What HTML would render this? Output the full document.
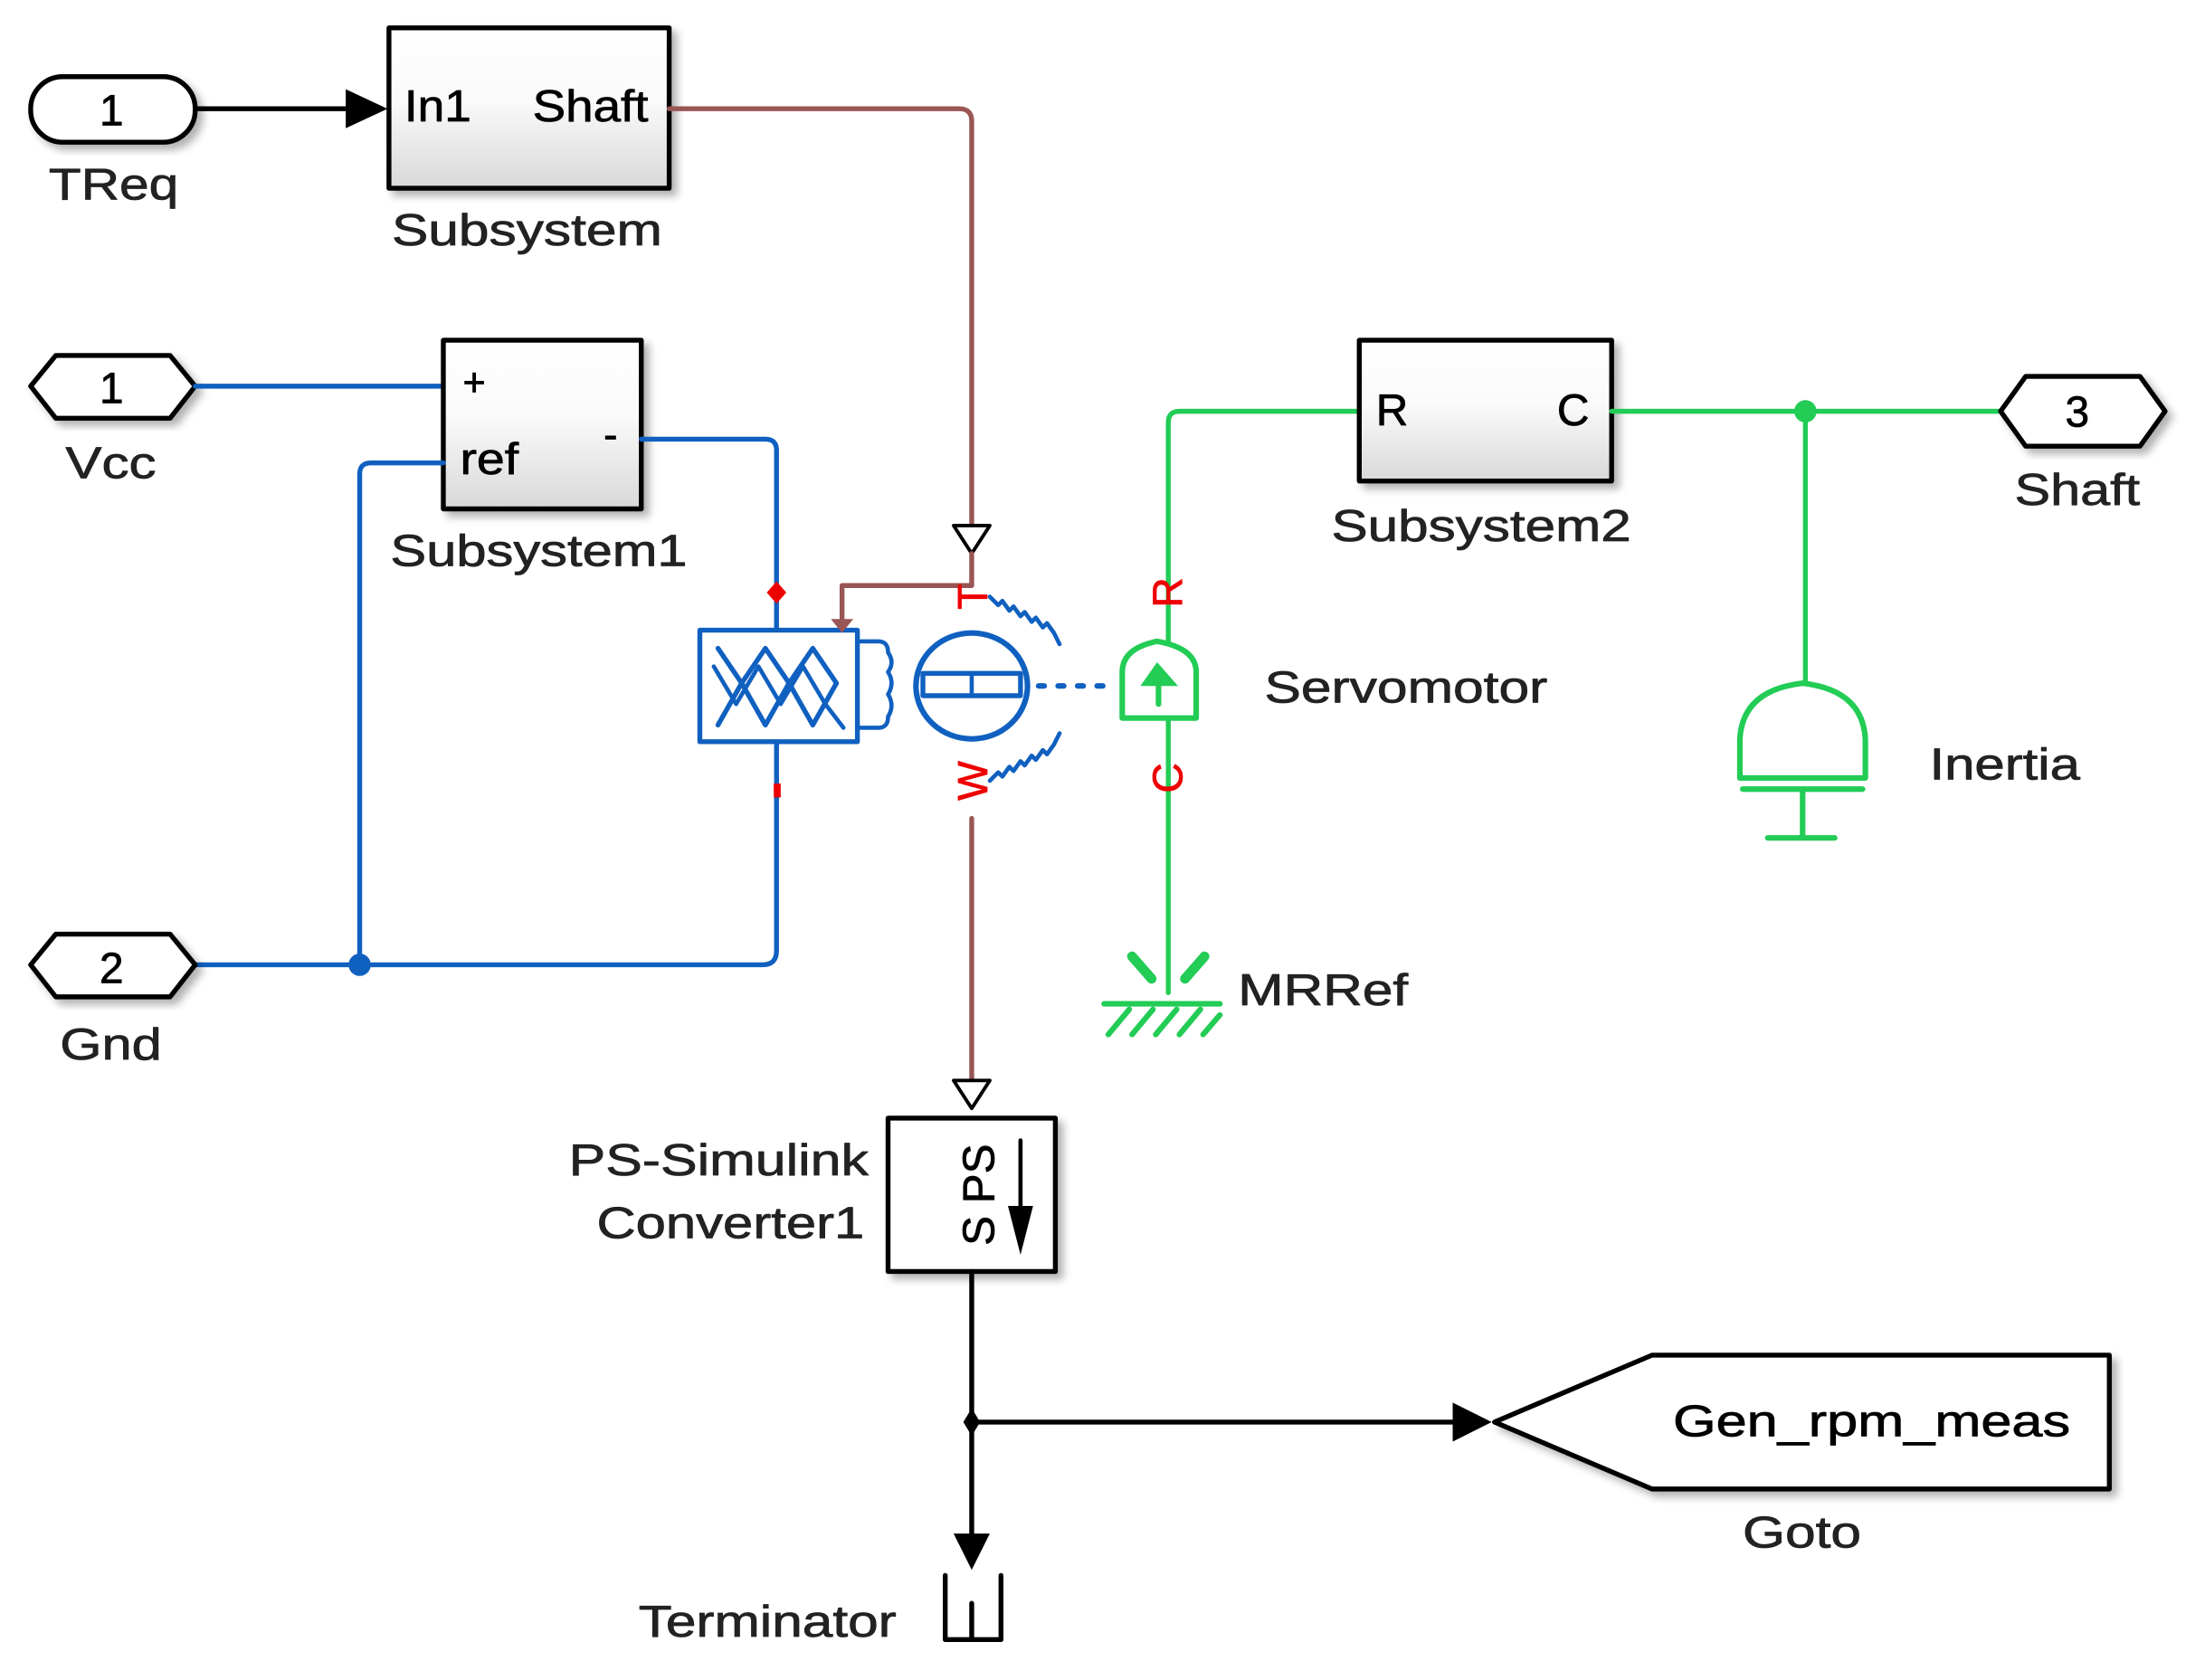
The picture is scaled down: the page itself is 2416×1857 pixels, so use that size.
<!DOCTYPE html>
<html><head><meta charset="utf-8"><style>
html,body{margin:0;padding:0;background:#fff;}
svg{display:block;}
text{font-family:"Liberation Sans",Arial,sans-serif;stroke:currentColor;stroke-width:0.5;}
</style></head><body>
<svg width="2416" height="1857" viewBox="0 0 1568 1205" preserveAspectRatio="none" xmlns="http://www.w3.org/2000/svg">
<defs>
<linearGradient id="g" x1="0" y1="0" x2="0" y2="1"><stop offset="0" stop-color="#fff"/><stop offset="0.45" stop-color="#fafafa"/><stop offset="1" stop-color="#d8d8d8"/></linearGradient>
<filter id="sh" x="-10%" y="-10%" width="130%" height="130%"><feDropShadow dx="4" dy="4" stdDeviation="3" flood-color="#000" flood-opacity="0.3"/></filter>
</defs>
<g stroke-linejoin="round" stroke-linecap="round">
<!-- TReq -->
<rect x="22" y="55" width="118" height="47" rx="23" fill="#fff" stroke="#000" stroke-width="3.5" filter="url(#sh)"/>
<text x="80" y="90" font-size="31" text-anchor="middle" color="#000">1</text>
<text x="35" y="143" font-size="32" textLength="93" lengthAdjust="spacingAndGlyphs" fill="#222" color="#222">TReq</text>
<line x1="140" y1="78" x2="252" y2="78" stroke="#000" stroke-width="3.5"/>
<polygon points="248,64 278,78 248,92" fill="#000"/>
<!-- Subsystem -->
<rect x="279" y="20" width="201" height="115" fill="url(#g)" stroke="#000" stroke-width="3.5" filter="url(#sh)"/>
<text x="290" y="87" font-size="32" textLength="48" lengthAdjust="spacingAndGlyphs" color="#000">In1</text>
<text x="382" y="87" font-size="32" textLength="83" lengthAdjust="spacingAndGlyphs" color="#000">Shaft</text>
<text x="281" y="176" font-size="32" textLength="194" lengthAdjust="spacingAndGlyphs" fill="#222" color="#222">Subsystem</text>
<path d="M480,78 H688 Q697,78 697,87 V378" fill="none" stroke="#9a5555" stroke-width="3.5"/>
<polygon points="684,377 710,377 697,397" fill="#fff" stroke="#000" stroke-width="2.5"/>
<!-- Vcc -->
<polygon points="22,277 40,255 122,255 140,277 122,300 40,300" fill="#fff" stroke="#000" stroke-width="3.5" filter="url(#sh)"/>
<text x="80" y="289" font-size="31" text-anchor="middle" color="#000">1</text>
<text x="47" y="343" font-size="32" textLength="65" lengthAdjust="spacingAndGlyphs" fill="#222" color="#222">Vcc</text>
<line x1="140" y1="277" x2="318" y2="277" stroke="#1060c0" stroke-width="3.5"/>
<!-- Subsystem1 -->
<rect x="318" y="244" width="142" height="121" fill="url(#g)" stroke="#000" stroke-width="3.5" filter="url(#sh)"/>
<text x="332" y="284" font-size="28" color="#000">+</text>
<text x="330" y="340" font-size="32" textLength="42" lengthAdjust="spacingAndGlyphs" color="#000">ref</text>
<text x="433" y="322" font-size="30" color="#000">-</text>
<text x="280" y="406" font-size="32" textLength="213" lengthAdjust="spacingAndGlyphs" fill="#222" color="#222">Subsystem1</text>
<path d="M460,315 H549 Q557,315 557,323 V452" fill="none" stroke="#1060c0" stroke-width="3.5"/>
<path d="M557,532 V682 Q557,692 547,692 H140" fill="none" stroke="#1060c0" stroke-width="3.5"/>
<path d="M318,332 H266 Q258,332 258,340 V692" fill="none" stroke="#1060c0" stroke-width="3.5"/>
<circle cx="258" cy="692" r="8" fill="#1060c0"/>
<polygon points="557,417 564,425 557,433 550,425" fill="#e00"/>
<rect x="555" y="562" width="5" height="10" fill="#e00"/>
<!-- Gnd -->
<polygon points="22,692 40,670 122,670 140,692 122,715 40,715" fill="#fff" stroke="#000" stroke-width="3.5" filter="url(#sh)"/>
<text x="80" y="705" font-size="31" text-anchor="middle" color="#000">2</text>
<text x="43" y="760" font-size="32" textLength="73" lengthAdjust="spacingAndGlyphs" fill="#222" color="#222">Gnd</text>
<!-- motor -->
<rect x="502" y="452" width="113" height="80" fill="#fff" stroke="#1060c0" stroke-width="3.5"/>
<path d="M515,465 L532,490 L549,465 L566,490 L583,465 L600,490 M515,520 L532,490 L549,520 L566,490 L583,520 L600,490" fill="none" stroke="#1060c0" stroke-width="3.5"/>
<path d="M512,478 L528,505 L544,478 L560,505 L576,478 L592,505 L605,522" fill="none" stroke="#1060c0" stroke-width="3"/>
<path d="M615,460 H630 Q637,460 637,468 Q642,475 637,482 Q642,490 637,498 Q642,506 637,514 Q637,522 630,522 H615" fill="none" stroke="#1060c0" stroke-width="3"/>
<ellipse cx="697" cy="492" rx="40" ry="38" fill="#fff" stroke="#1060c0" stroke-width="4"/>
<rect x="662" y="483" width="70" height="16" fill="none" stroke="#1060c0" stroke-width="3.5"/>
<line x1="697" y1="483" x2="697" y2="499" stroke="#1060c0" stroke-width="3"/>
<path d="M710,428 l6,6 l3,-3 l5,7 l3,-3 l5,7 l3,-3 l5,7 l3,-3 l5,7 l3,-3 l5,7 l4,8" fill="none" stroke="#1060c0" stroke-width="3"/>
<path d="M710,560 l6,-6 l3,3 l5,-7 l3,3 l5,-7 l3,3 l5,-7 l3,3 l5,-7 l3,3 l5,-7 l4,-8" fill="none" stroke="#1060c0" stroke-width="3"/>
<line x1="745" y1="492" x2="800" y2="492" stroke="#1060c0" stroke-width="4" stroke-dasharray="4,10"/>
<path d="M697,397 V420 H604 V448" fill="none" stroke="#9a5555" stroke-width="3.5"/>
<polygon points="596,444 612,444 604,454" fill="#9a5555"/>
<text x="0" y="0" font-size="30" fill="#e00" color="#e00" transform="translate(708,428) rotate(-90)" text-anchor="middle">T</text>
<text x="0" y="0" font-size="30" fill="#e00" color="#e00" transform="translate(708,560) rotate(-90)" text-anchor="middle">W</text>
<line x1="697" y1="587" x2="697" y2="778" stroke="#9a5555" stroke-width="3.5"/>
<polygon points="684,775 710,775 697,795" fill="#fff" stroke="#000" stroke-width="2.5"/>
<!-- green -->
<path d="M975,295 H846 Q838,295 838,303 V462" fill="none" stroke="#22cc55" stroke-width="3.5"/>
<line x1="838" y1="515" x2="838" y2="712" stroke="#22cc55" stroke-width="3.5"/>
<path d="M805,515 V482 Q805,465 830,460 Q858,465 858,482 V515 Z" fill="#fff" stroke="#22cc55" stroke-width="4"/>
<polygon points="818,492 830,475 845,492" fill="#22cc55"/>
<line x1="831" y1="485" x2="831" y2="505" stroke="#22cc55" stroke-width="4"/>
<text x="0" y="0" font-size="30" fill="#e00" color="#e00" transform="translate(848,425) rotate(-90)" text-anchor="middle">R</text>
<text x="0" y="0" font-size="30" fill="#e00" color="#e00" transform="translate(848,558) rotate(-90)" text-anchor="middle">C</text>
<path d="M812,686 L826,702 M864,686 L850,702" stroke="#22cc55" stroke-width="7"/>
<line x1="792" y1="720" x2="875" y2="720" stroke="#22cc55" stroke-width="4"/>
<path d="M795,742 l15,-18 M812,742 l15,-18 M829,742 l15,-18 M846,742 l15,-18 M863,742 l12,-14" stroke="#22cc55" stroke-width="4"/>
<text x="888" y="721" font-size="32" textLength="122" lengthAdjust="spacingAndGlyphs" fill="#222" color="#222">MRRef</text>
<text x="907" y="504" font-size="32" textLength="203" lengthAdjust="spacingAndGlyphs" fill="#222" color="#222">Servomotor</text>
<!-- Subsystem2 -->
<rect x="975" y="244" width="181" height="101" fill="url(#g)" stroke="#000" stroke-width="3.5" filter="url(#sh)"/>
<text x="987" y="305" font-size="32" color="#000">R</text>
<text x="1140" y="305" font-size="32" text-anchor="end" color="#000">C</text>
<text x="955" y="388" font-size="32" textLength="215" lengthAdjust="spacingAndGlyphs" fill="#222" color="#222">Subsystem2</text>
<line x1="1156" y1="295" x2="1435" y2="295" stroke="#22cc55" stroke-width="3.5"/>
<circle cx="1295" cy="295" r="8" fill="#22cc55"/>
<line x1="1295" y1="295" x2="1295" y2="490" stroke="#22cc55" stroke-width="3.5"/>
<path d="M1248,558 V530 Q1250,495 1293,490 Q1336,495 1338,530 V558 Z" fill="#fff" stroke="#22cc55" stroke-width="4"/>
<line x1="1250" y1="566" x2="1336" y2="566" stroke="#22cc55" stroke-width="4"/>
<line x1="1293" y1="566" x2="1293" y2="600" stroke="#22cc55" stroke-width="4"/>
<line x1="1268" y1="601" x2="1316" y2="601" stroke="#22cc55" stroke-width="4"/>
<text x="1384" y="559" font-size="32" textLength="108" lengthAdjust="spacingAndGlyphs" fill="#222" color="#222">Inertia</text>
<!-- Shaft out -->
<polygon points="1435,295 1453,270 1535,270 1553,295 1535,320 1453,320" fill="#fff" stroke="#000" stroke-width="3.5" filter="url(#sh)"/>
<text x="1490" y="306" font-size="31" text-anchor="middle" color="#000">3</text>
<text x="1445" y="362" font-size="32" textLength="90" lengthAdjust="spacingAndGlyphs" fill="#222" color="#222">Shaft</text>
<!-- PS-Simulink -->
<rect x="637" y="802" width="120" height="110" fill="#fff" stroke="#000" stroke-width="3.5" filter="url(#sh)"/>
<text x="0" y="0" font-size="32" transform="translate(713,857) rotate(-90)" text-anchor="middle" color="#000">S PS</text>
<line x1="732" y1="818" x2="732" y2="880" stroke="#000" stroke-width="3"/>
<polygon points="723,865 741,865 732,900" fill="#000"/>
<text x="408" y="843" font-size="32" textLength="215" lengthAdjust="spacingAndGlyphs" fill="#222" color="#222">PS-Simulink</text>
<text x="428" y="888" font-size="32" textLength="192" lengthAdjust="spacingAndGlyphs" fill="#222" color="#222">Converter1</text>
<line x1="697" y1="912" x2="697" y2="1105" stroke="#000" stroke-width="3.5"/>
<polygon points="684,1100 710,1100 697,1126" fill="#000"/>
<polygon points="697,1010 703,1020 697,1030 691,1020" fill="#000"/>
<line x1="697" y1="1020" x2="1045" y2="1020" stroke="#000" stroke-width="3.5"/>
<polygon points="1042,1006 1070,1020 1042,1034" fill="#000"/>
<polygon points="1072,1020 1185,972 1513,972 1513,1068 1185,1068" fill="#fff" stroke="#000" stroke-width="3.5" filter="url(#sh)"/>
<text x="1200" y="1030" font-size="32" textLength="285" lengthAdjust="spacingAndGlyphs" color="#000">Gen_rpm_meas</text>
<text x="1250" y="1110" font-size="32" textLength="85" lengthAdjust="spacingAndGlyphs" fill="#222" color="#222">Goto</text>
<path d="M678,1130 V1176 H718 V1130 M697,1150 V1176" fill="none" stroke="#000" stroke-width="3.5"/>
<text x="458" y="1174" font-size="32" textLength="185" lengthAdjust="spacingAndGlyphs" fill="#222" color="#222">Terminator</text>
</g>
</svg>
</body></html>
